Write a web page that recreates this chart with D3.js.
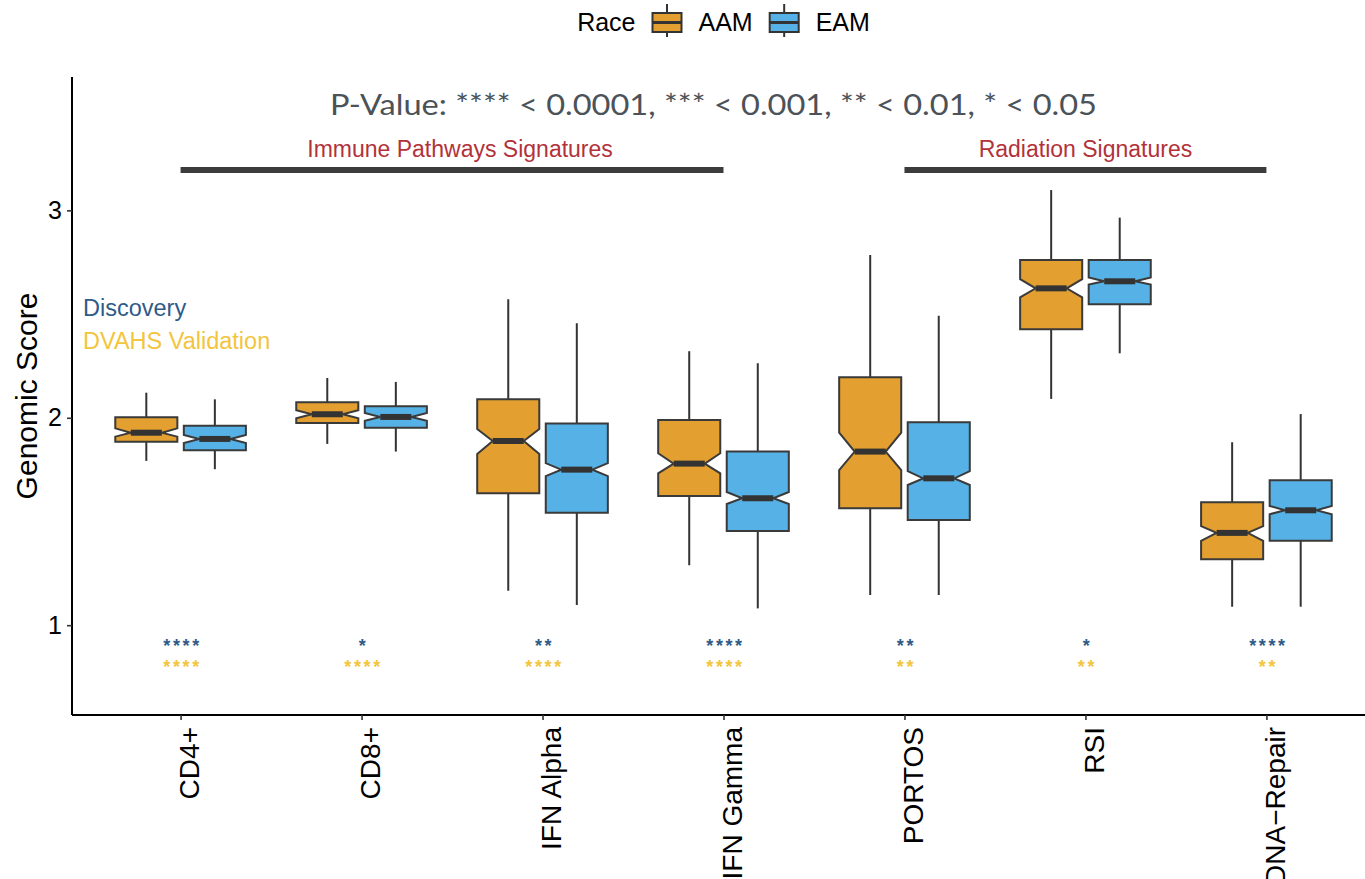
<!DOCTYPE html>
<html>
<head>
<meta charset="utf-8">
<script src="https://cdn.jsdelivr.net/npm/d3@7"></script>
<style>
  html, body { margin: 0; padding: 0; background: #ffffff; }
  svg { display: block; }
  text { font-family: "Liberation Sans", Arial, sans-serif; }
</style>
</head>
<body>
<svg id="chart" width="1365" height="879"></svg>
<script>
// Genomic signature scores by race: notched box plots per signature
const categories = ["CD4+", "CD8+", "IFN Alpha", "IFN Gamma", "PORTOS", "RSI", "DNA\u2212Repair"];
const groups = ["AAM", "EAM"];
const groupColors = ["#E39F2F", "#56B2E6"];

// AAM box statistics
const aamLower   = [1.792, 1.874, 1.166, 1.289, 1.146, 2.091, 1.089];
const aamQ1      = [1.885, 1.975, 1.636, 1.623, 1.564, 2.427, 1.318];
const aamMedian  = [1.928, 2.017, 1.888, 1.779, 1.837, 2.624, 1.445];
const aamQ3      = [2.002, 2.075, 2.089, 1.989, 2.195, 2.761, 1.593];
const aamUpper   = [2.121, 2.192, 2.571, 2.321, 2.785, 3.098, 1.882];
const aamNotchLo = [1.909, 1.998, 1.826, 1.732, 1.748, 2.581, 1.406];
const aamNotchHi = [1.949, 2.036, 1.946, 1.829, 1.928, 2.668, 1.478];

// EAM box statistics
const eamLower   = [1.752, 1.837, 1.097, 1.081, 1.146, 2.311, 1.089];
const eamQ1      = [1.843, 1.952, 1.542, 1.454, 1.507, 2.547, 1.407];
const eamMedian  = [1.898, 2.004, 1.750, 1.612, 1.708, 2.658, 1.554];
const eamQ3      = [1.962, 2.055, 1.973, 1.838, 1.978, 2.761, 1.699];
const eamUpper   = [2.089, 2.173, 2.456, 2.263, 2.492, 2.965, 2.018];
const eamNotchLo = [1.878, 1.985, 1.719, 1.584, 1.676, 2.642, 1.535];
const eamNotchHi = [1.917, 2.023, 1.781, 1.642, 1.743, 2.676, 1.575];

// Significance stars per signature for the two cohorts
const discoveryStars  = ["****", "*", "**", "****", "**", "*", "****"];
const validationStars = ["****", "****", "****", "****", "**", "**", "**"];
const cohortNames  = ["Discovery", "DVAHS Validation"];
const cohortColors = ["#2F5B88", "#F2C53D"];
const starLevels   = [0.924, 0.823];

// Signature families spanning several categories
const familyNames = ["Immune Pathways Signatures", "Radiation Signatures"];
const familyStart = ["CD4+", "PORTOS"];
const familyEnd   = ["IFN Gamma", "DNA\u2212Repair"];
const familyBarLevel = 3.195;
const familyLabelLevel = 3.255;

const yTicks = [1, 2, 3];
const yDomain = [0.567, 3.643];
const titleText = "P-Value: **** < 0.0001, *** < 0.001, ** < 0.01, * < 0.05";
const titleLevel = 3.460;
const cohortLabelLevels = [2.49, 2.33];

const svg = d3.select("#chart");
const panel = { left: 72, right: 1375, top: 77, bottom: 715 };

const x = d3.scalePoint().domain(categories).range([panel.left, panel.right]).padding(0.6);
const step = x.step();
const y = d3.scaleLinear().domain(yDomain).range([panel.bottom, panel.top]);
const dodge = d3.scaleBand().domain(groups).range([-0.375 * step, 0.375 * step]).paddingInner(0.02);
const boxW = 0.343 * step;

const stats = [
  { lower: aamLower, q1: aamQ1, med: aamMedian, q3: aamQ3, upper: aamUpper, nlo: aamNotchLo, nhi: aamNotchHi },
  { lower: eamLower, q1: eamQ1, med: eamMedian, q3: eamQ3, upper: eamUpper, nlo: eamNotchLo, nhi: eamNotchHi }
];

const boxes = [];
groups.forEach((g, gi) => {
  categories.forEach((c, ci) => {
    const s = stats[gi];
    boxes.push({ group: g, gi, cat: c, lower: s.lower[ci], q1: s.q1[ci], med: s.med[ci],
                 q3: s.q3[ci], upper: s.upper[ci], nlo: s.nlo[ci], nhi: s.nhi[ci] });
  });
});

const cx = d => x(d.cat) + dodge(d.group) + dodge.bandwidth() / 2;

function notchPath(d) {
  const l = cx(d) - boxW / 2, r = cx(d) + boxW / 2, inset = boxW * 0.25;
  const p = d3.path();
  p.moveTo(l, y(d.q3));
  p.lineTo(r, y(d.q3));
  p.lineTo(r, y(d.nhi));
  p.lineTo(r - inset, y(d.med));
  p.lineTo(r, y(d.nlo));
  p.lineTo(r, y(d.q1));
  p.lineTo(l, y(d.q1));
  p.lineTo(l, y(d.nlo));
  p.lineTo(l + inset, y(d.med));
  p.lineTo(l, y(d.nhi));
  p.closePath();
  return p.toString();
}

// Whiskers
const bx = svg.append("g").attr("class", "boxes");
bx.selectAll("line.whisker").data(boxes).join("line")
  .attr("class", "whisker")
  .attr("x1", cx).attr("x2", cx)
  .attr("y1", d => y(d.upper)).attr("y2", d => y(d.lower))
  .attr("stroke", "#333333").attr("stroke-width", 2);

// Notched boxes
bx.selectAll("path.box").data(boxes).join("path")
  .attr("class", "box")
  .attr("d", notchPath)
  .attr("fill", d => groupColors[d.gi])
  .attr("stroke", "#3a3a3a").attr("stroke-width", 2)
  .attr("stroke-linejoin", "miter");

// Medians
bx.selectAll("line.median").data(boxes).join("line")
  .attr("class", "median")
  .attr("x1", d => cx(d) - boxW / 2 + boxW * 0.25)
  .attr("x2", d => cx(d) + boxW / 2 - boxW * 0.25)
  .attr("y1", d => y(d.med)).attr("y2", d => y(d.med))
  .attr("stroke", "#333333").attr("stroke-width", 6);

// Axes
const yAxis = svg.append("g").attr("transform", `translate(${panel.left},0)`)
  .call(d3.axisLeft(y).tickValues(yTicks).tickFormat(d3.format("d")).tickSize(5).tickPadding(5));
yAxis.select(".domain").attr("stroke", "#000").attr("stroke-width", 2)
  .attr("d", `M0,${panel.top}V${panel.bottom}`);
yAxis.selectAll(".tick line").attr("stroke", "#333").attr("stroke-width", 1.6);
yAxis.selectAll(".tick text").attr("fill", "#000").style("font-size", "25px")
  .style("font-family", "'Liberation Sans', Arial, sans-serif");

const xAxis = svg.append("g").attr("transform", `translate(0,${panel.bottom})`)
  .call(d3.axisBottom(x).tickSize(5).tickSizeOuter(0));
xAxis.select(".domain").attr("stroke", "#000").attr("stroke-width", 2)
  .attr("d", `M${panel.left},0H${panel.right}`);
xAxis.selectAll(".tick line").attr("stroke", "#333").attr("stroke-width", 1.6);
xAxis.selectAll(".tick text")
  .attr("fill", "#000")
  .style("font-size", "28px")
  .style("font-family", "'Liberation Sans', Arial, sans-serif")
  .attr("text-anchor", "end")
  .attr("dy", null)
  .attr("y", null)
  .attr("transform", "translate(18,12) rotate(-90)");

// Y axis title
svg.append("text")
  .attr("transform", `translate(37,${(panel.top + panel.bottom) / 2}) rotate(-90)`)
  .attr("text-anchor", "middle")
  .style("font-size", "30px")
  .attr("fill", "#000")
  .text("Genomic Score");

// P-value key line
svg.append("text")
  .attr("x", x(categories[3]) - 10)
  .attr("y", y(titleLevel))
  .attr("text-anchor", "middle")
  .attr("fill", "#4b5258")
  .attr("textLength", 767)
  .attr("lengthAdjust", "spacingAndGlyphs")
  .style("font-family", "Lato, 'Open Sans', sans-serif")
  .style("font-size", "28px")
  .text(titleText);

// Signature family brackets
familyNames.forEach((name, i) => {
  const x0 = x(familyStart[i]), x1 = x(familyEnd[i]);
  svg.append("line")
    .attr("x1", x0).attr("x2", x1)
    .attr("y1", y(familyBarLevel)).attr("y2", y(familyBarLevel))
    .attr("stroke", "#3c3c3c").attr("stroke-width", 6);
  svg.append("text")
    .attr("x", (x0 + x1) / 2 + (i === 0 ? 8 : 0))
    .attr("y", y(familyLabelLevel))
    .attr("text-anchor", "middle")
    .attr("fill", "#B2323A")
    .style("font-size", "23px")
    .text(name);
});

// Cohort labels
cohortNames.forEach((name, i) => {
  svg.append("text")
    .attr("x", 83)
    .attr("y", y(cohortLabelLevels[i]))
    .attr("fill", cohortColors[i])
    .style("font-size", "23.5px")
    .text(name);
});

// Significance stars
[discoveryStars, validationStars].forEach((row, i) => {
  svg.append("g").selectAll("text").data(row).join("text")
    .attr("x", (d, ci) => x(categories[ci]) + 2)
    .attr("y", y(starLevels[i]) + 11)
    .attr("text-anchor", "middle")
    .attr("fill", cohortColors[i])
    .style("font-size", "18px")
    .style("font-weight", "bold")
    .style("letter-spacing", "2.6px")
    .text(d => d);
});

// Legend
const legend = svg.append("g").attr("class", "legend");
let cursor = 0;
const lt = legend.append("text").attr("x", cursor).attr("y", 31).style("font-size", "25px").text("Race");
cursor += lt.node().getComputedTextLength() + 17;
groups.forEach((g, gi) => {
  const k = legend.append("g").attr("transform", `translate(${cursor},0)`);
  k.append("line").attr("x1", 14.5).attr("x2", 14.5).attr("y1", 4).attr("y2", 37)
    .attr("stroke", "#333").attr("stroke-width", 2);
  k.append("rect").attr("x", 0).attr("y", 13).attr("width", 29).attr("height", 19)
    .attr("fill", groupColors[gi]).attr("stroke", "#333").attr("stroke-width", 2);
  k.append("line").attr("x1", 0).attr("x2", 29).attr("y1", 22.5).attr("y2", 22.5)
    .attr("stroke", "#333").attr("stroke-width", 3);
  cursor += 29 + 17;
  const t = legend.append("text").attr("x", cursor).attr("y", 31).style("font-size", "25px").text(g);
  cursor += t.node().getComputedTextLength() + 17;
});
cursor -= 17;
legend.attr("transform", `translate(${(panel.left + panel.right) / 2 - cursor / 2},0)`);
</script>
</body>
</html>
